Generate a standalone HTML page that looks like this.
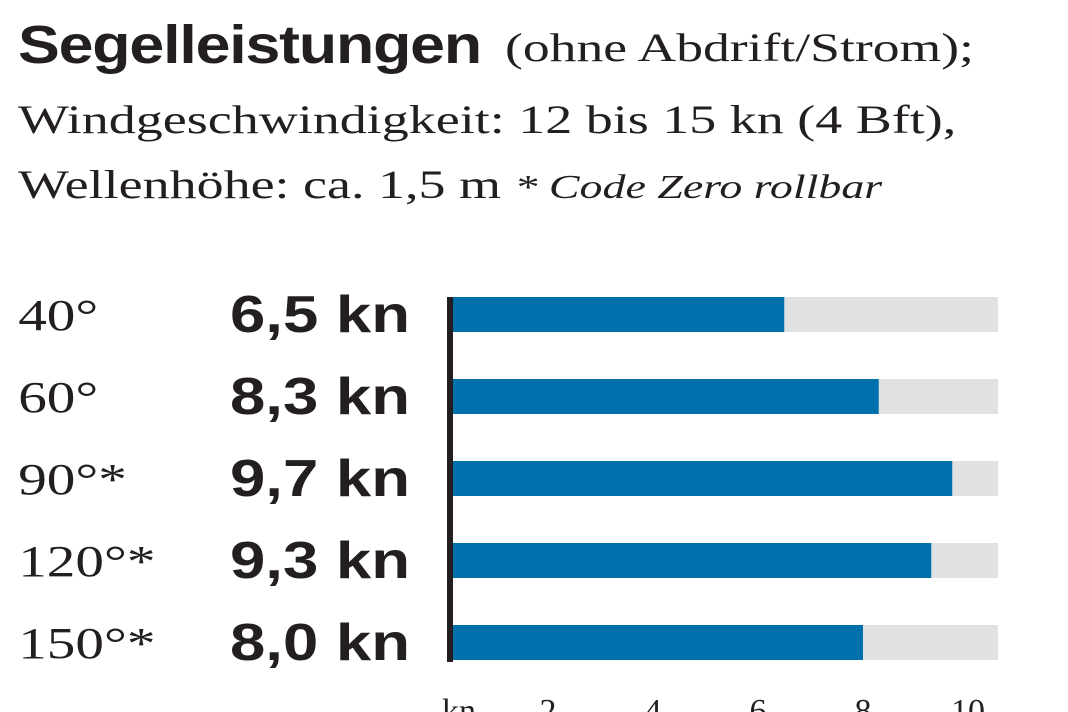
<!DOCTYPE html>
<html><head><meta charset="utf-8"><style>
body{margin:0;width:1068px;height:712px;background:#fff;overflow:hidden;font-family:"Liberation Serif",serif;color:#231f20}
.t{position:absolute;white-space:nowrap;transform-origin:0 0}
</style></head><body>
<div class="t" style="left:18px;top:10px;font-family:'Liberation Sans',sans-serif;font-weight:bold;font-size:54px;line-height:70px;letter-spacing:-1px;transform:scaleX(1.16)">Segelleistungen</div>
<div class="t" style="left:505px;top:20px;font-size:40px;line-height:56px;transform:scaleX(1.34)">(ohne Abdrift/Strom);</div>
<div class="t" style="left:18px;top:92px;font-size:40px;line-height:56px;transform:scaleX(1.35)">Windgeschwindigkeit: 12 bis 15 kn (4 Bft),</div>
<div class="t" style="left:18px;top:157px;font-size:40px;line-height:56px;transform:scaleX(1.35)">Wellenhöhe: ca. 1,5 m <i style="font-size:34px">* Code Zero rollbar</i></div>
<svg id="chart" width="1068" height="712" style="position:absolute;left:0;top:0"></svg>
<script>
const categories=["40°","60°","90°*","120°*","150°*"];
const speeds=[6.5,8.3,9.7,9.3,8.0];
const valueLabels=["6,5 kn","8,3 kn","9,7 kn","9,3 kn","8,0 kn"];
const ticks=[2,4,6,8,10];
const tickLabels=["2","4","6","8","10"];
const NS="http://www.w3.org/2000/svg";
const svg=document.getElementById("chart");
const x=v=>443+52.5*v;
const y=i=>297+82*i;
function mk(t,a){const e=document.createElementNS(NS,t);for(const k in a)e.setAttribute(k,a[k]);svg.appendChild(e);return e;}
categories.forEach((c,i)=>{
 const bg=mk("rect",{x:453,y:y(i),width:545,height:35,fill:"#e0e1e3"});
 
 
 const b=mk("rect",{x:453,y:y(i),width:Math.max(0,x(speeds[i])-453),height:35,fill:"#0070ad"});
 
 
 const l=mk("text",{x:14,y:y(i)+33,"font-size":44,"font-family":"Liberation Serif, serif",fill:"#231f20",transform:"scale(1.3,1)"});
 l.textContent=c;
 
 
 const v=mk("text",{x:230,y:y(i)+35,"font-size":52,"font-weight":"bold",textLength:180,lengthAdjust:"spacingAndGlyphs","font-family":"Liberation Sans, sans-serif",fill:"#231f20"});
 v.textContent=valueLabels[i];
 
 
});
const ax=mk("rect",{x:447,y:297,width:6,height:365,fill:"#231f20"});


const kn=mk("text",{x:459,y:722,"font-size":34,"text-anchor":"middle","font-family":"Liberation Serif, serif",fill:"#231f20"});
kn.textContent="kn";


ticks.forEach((t,i)=>{
 const e=mk("text",{x:x(t),y:722,"font-size":34,"text-anchor":"middle","font-family":"Liberation Serif, serif",fill:"#231f20"});
 e.textContent=tickLabels[i];
 
 
});
</script>
</body></html>
